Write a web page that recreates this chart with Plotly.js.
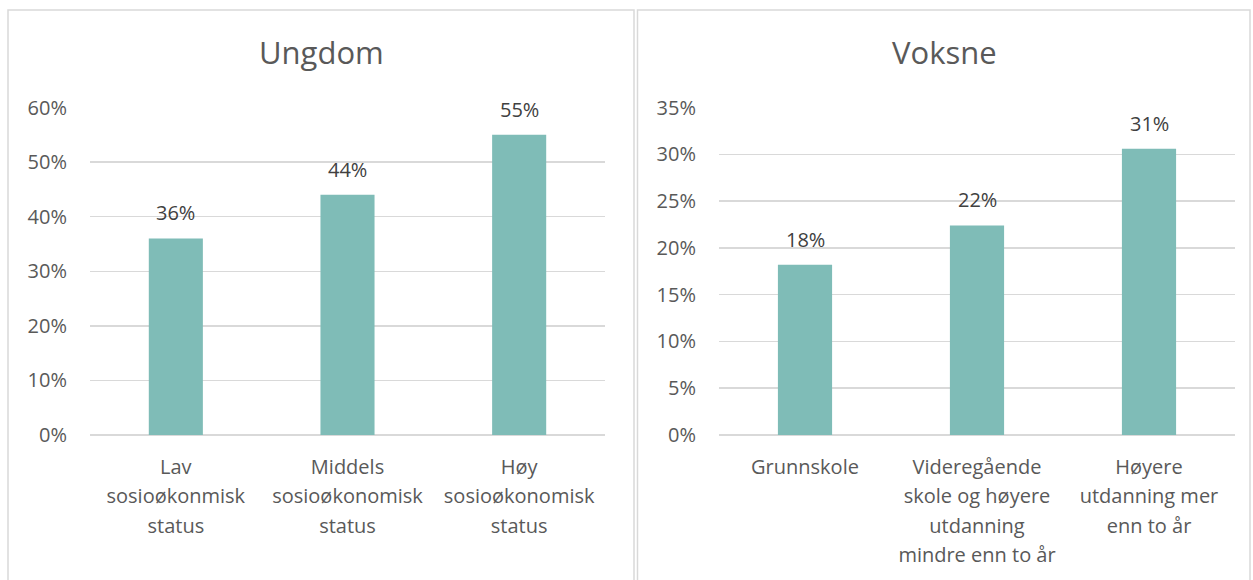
<!DOCTYPE html>
<html>
<head>
<meta charset="utf-8">
<script src="https://cdn.plot.ly/plotly-3.0.1.min.js"></script>
<style>
html,body{margin:0;padding:0;background:#fff;}
#chart{width:1253px;height:580px;}
</style>
</head>
<body>
<div id="chart"></div>
<script>
// Data
const titleLeft = "Ungdom";
const titleRight = "Voksne";
const categoriesLeft = [
  ["Lav", "sosioøkonmisk", "status"],
  ["Middels", "sosioøkonomisk", "status"],
  ["Høy", "sosioøkonomisk", "status"]
];
const valuesLeft = [0.36, 0.44, 0.55];
const categoriesRight = [
  ["Grunnskole"],
  ["Videregående", "skole og høyere", "utdanning", "mindre enn to år"],
  ["Høyere", "utdanning mer", "enn to år"]
];
const valuesRight = [0.182, 0.224, 0.306];

const W = 1253, H = 580;
const px = v => v / W;
const py = v => 1 - v / H;

const barColor = "#7fbcb7";
const gridColor = "#d9d9d9";
const textColor = "#595959";
const labelColor = "#404040";
const FONT = "Open Sans, sans-serif";

const keyOf = lines => lines.join(" ");
const tickTextOf = lines => lines.map(l => "<span style='font-size:20px'>" + l + "</span>").join("<br>");

const keysLeft = categoriesLeft.map(keyOf);
const keysRight = categoriesRight.map(keyOf);

const traces = [
  {type: "bar", x: keysLeft, y: valuesLeft, xaxis: "x", yaxis: "y",
   marker: {color: barColor}, hoverinfo: "none"},
  {type: "bar", x: keysRight, y: valuesRight, xaxis: "x2", yaxis: "y2",
   marker: {color: barColor}, hoverinfo: "none"}
];

function dataLabels(keys, vals, xr, yr) {
  return keys.map((c, i) => ({
    x: c, y: vals[i], xref: xr, yref: yr,
    text: Math.round(vals[i] * 100) + "%",
    showarrow: false, yanchor: "bottom", yshift: 10,
    font: {family: FONT, size: 20, color: labelColor}
  }));
}

const xCommon = {
  type: "category", showgrid: false, zeroline: false, showline: false,
  ticks: "", ticklabelstandoff: 15, tickmode: "array",
  tickfont: {family: FONT, size: 22.7, color: textColor}, fixedrange: true
};
const yCommon = {
  showgrid: true, gridcolor: gridColor, gridwidth: 1.5,
  zeroline: true, zerolinecolor: gridColor, zerolinewidth: 1.5,
  showline: false, ticks: "", tickformat: ".0%", ticklabelstandoff: 22,
  tickfont: {family: FONT, size: 20, color: textColor}, fixedrange: true
};

const layout = {
  width: W, height: H,
  margin: {l: 0, r: 0, t: 0, b: 0},
  paper_bgcolor: "#fff", plot_bgcolor: "#fff",
  showlegend: false,
  bargap: 0.685,
  font: {family: FONT, color: textColor},
  xaxis: Object.assign({}, xCommon, {domain: [px(90), px(605)], anchor: "y",
    tickvals: keysLeft, ticktext: categoriesLeft.map(tickTextOf)}),
  xaxis2: Object.assign({}, xCommon, {domain: [px(719), px(1235)], anchor: "y2",
    tickvals: keysRight, ticktext: categoriesRight.map(tickTextOf)}),
  yaxis: Object.assign({}, yCommon, {domain: [py(435), py(107.5)], range: [0, 0.6], dtick: 0.1, anchor: "x"}),
  yaxis2: Object.assign({}, yCommon, {domain: [py(435), py(107.5)], range: [0, 0.35], dtick: 0.05, anchor: "x2"}),
  shapes: [
    {type: "rect", xref: "paper", yref: "paper", x0: px(8), x1: px(634), y0: -0.05, y1: py(10),
     line: {color: gridColor, width: 1.5}},
    {type: "rect", xref: "paper", yref: "paper", x0: px(637.5), x1: px(1250), y0: -0.05, y1: py(10),
     line: {color: gridColor, width: 1.5}}
  ],
  annotations: [
    {x: px(321), y: py(52), xref: "paper", yref: "paper", text: titleLeft, showarrow: false,
     xanchor: "center", yanchor: "middle", font: {family: FONT, size: 31, color: textColor}},
    {x: px(944), y: py(52), xref: "paper", yref: "paper", text: titleRight, showarrow: false,
     xanchor: "center", yanchor: "middle", font: {family: FONT, size: 31, color: textColor}}
  ].concat(dataLabels(keysLeft, valuesLeft, "x", "y"))
   .concat(dataLabels(keysRight, valuesRight, "x2", "y2"))
};

Plotly.newPlot("chart", traces, layout, {displayModeBar: false, staticPlot: true});
</script>
</body>
</html>
